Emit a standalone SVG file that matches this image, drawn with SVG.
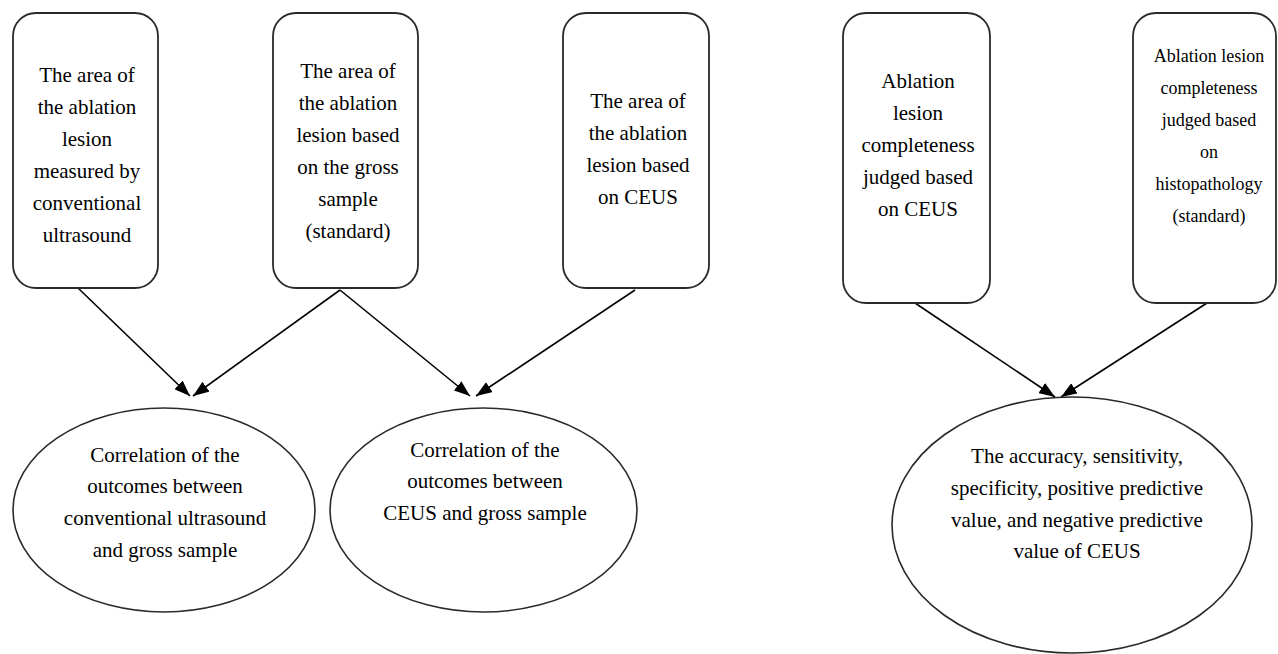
<svg xmlns="http://www.w3.org/2000/svg" width="1278" height="654" viewBox="0 0 1278 654">
  <style>
    .box { fill: #ffffff; stroke: #2a2a2a; stroke-width: 1.8; }
    .ell { fill: #ffffff; stroke: #2a2a2a; stroke-width: 1.6; }
    .t { font-size: 21px; fill: #000000; text-anchor: middle; }
    .ts { font-size: 18px; fill: #000000; text-anchor: middle; }
    .edge { fill: none; stroke: #000000; stroke-width: 1.6; }
  </style>
  <defs>
    <marker id="arrow" viewBox="0 0 16 12" refX="16" refY="6" markerWidth="16" markerHeight="12" markerUnits="userSpaceOnUse" orient="auto">
      <path d="M0,0 L16,6 L0,12 Z" fill="#000000"/>
    </marker>
  </defs>
  <rect width="1278" height="654" fill="#ffffff"/>

  <g id="connectors">
    <path class="edge" d="M78,288 L190,396" marker-end="url(#arrow)"/>
    <path class="edge" d="M340,290 L193,396" marker-end="url(#arrow)"/>
    <path class="edge" d="M340,290 L470,396" marker-end="url(#arrow)"/>
    <path class="edge" d="M635,290 L476,396" marker-end="url(#arrow)"/>
    <path class="edge" d="M915,303 L1055,397" marker-end="url(#arrow)"/>
    <path class="edge" d="M1207,303 L1061,397" marker-end="url(#arrow)"/>
  </g>

  <g font-family="Liberation Serif, Tinos, DejaVu Serif, serif">
  <g id="node-us">
    <rect class="box" x="13" y="13" width="145" height="275" rx="23" ry="23"/>
    <text class="t" x="87" y="82">The area of</text>
    <text class="t" x="87" y="114">the ablation</text>
    <text class="t" x="87" y="146">lesion</text>
    <text class="t" x="87" y="178">measured by</text>
    <text class="t" x="87" y="210">conventional</text>
    <text class="t" x="87" y="242">ultrasound</text>
  </g>

  <g id="node-gross">
    <rect class="box" x="273" y="13" width="145" height="275" rx="23" ry="23"/>
    <text class="t" x="348" y="78">The area of</text>
    <text class="t" x="348" y="110">the ablation</text>
    <text class="t" x="348" y="142">lesion based</text>
    <text class="t" x="348" y="174">on the gross</text>
    <text class="t" x="348" y="206">sample</text>
    <text class="t" x="348" y="238">(standard)</text>
  </g>

  <g id="node-ceus-area">
    <rect class="box" x="563" y="13" width="146" height="275" rx="23" ry="23"/>
    <text class="t" x="638" y="108">The area of</text>
    <text class="t" x="638" y="140">the ablation</text>
    <text class="t" x="638" y="172">lesion based</text>
    <text class="t" x="638" y="204">on CEUS</text>
  </g>

  <g id="node-ceus-complete">
    <rect class="box" x="843" y="13" width="147" height="290" rx="23" ry="23"/>
    <text class="t" x="918" y="88">Ablation</text>
    <text class="t" x="918" y="120">lesion</text>
    <text class="t" x="918" y="152">completeness</text>
    <text class="t" x="918" y="184">judged based</text>
    <text class="t" x="918" y="216">on CEUS</text>
  </g>

  <g id="node-histo">
    <rect class="box" x="1133" y="13" width="143" height="290" rx="23" ry="23"/>
    <text class="ts" x="1209" y="62">Ablation lesion</text>
    <text class="ts" x="1209" y="94">completeness</text>
    <text class="ts" x="1209" y="126">judged based</text>
    <text class="ts" x="1209" y="158">on</text>
    <text class="ts" x="1209" y="190">histopathology</text>
    <text class="ts" x="1209" y="222">(standard)</text>
  </g>

  <g id="node-corr-us">
    <ellipse class="ell" cx="164" cy="510" rx="151" ry="102"/>
    <text class="t" x="165" y="462">Correlation of the</text>
    <text class="t" x="165" y="493">outcomes between</text>
    <text class="t" x="165" y="525">conventional ultrasound</text>
    <text class="t" x="165" y="557">and gross sample</text>
  </g>

  <g id="node-corr-ceus">
    <ellipse class="ell" cx="483.5" cy="510" rx="153.5" ry="102"/>
    <text class="t" x="485" y="457">Correlation of the</text>
    <text class="t" x="485" y="488">outcomes between</text>
    <text class="t" x="485" y="520">CEUS and gross sample</text>
  </g>

  <g id="node-accuracy">
    <ellipse class="ell" cx="1072" cy="525" rx="180" ry="128"/>
    <text class="t" x="1077" y="463">The accuracy, sensitivity,</text>
    <text class="t" x="1077" y="495">specificity, positive predictive</text>
    <text class="t" x="1077" y="527">value, and negative predictive</text>
    <text class="t" x="1077" y="558">value of CEUS</text>
  </g>
  </g>
</svg>
